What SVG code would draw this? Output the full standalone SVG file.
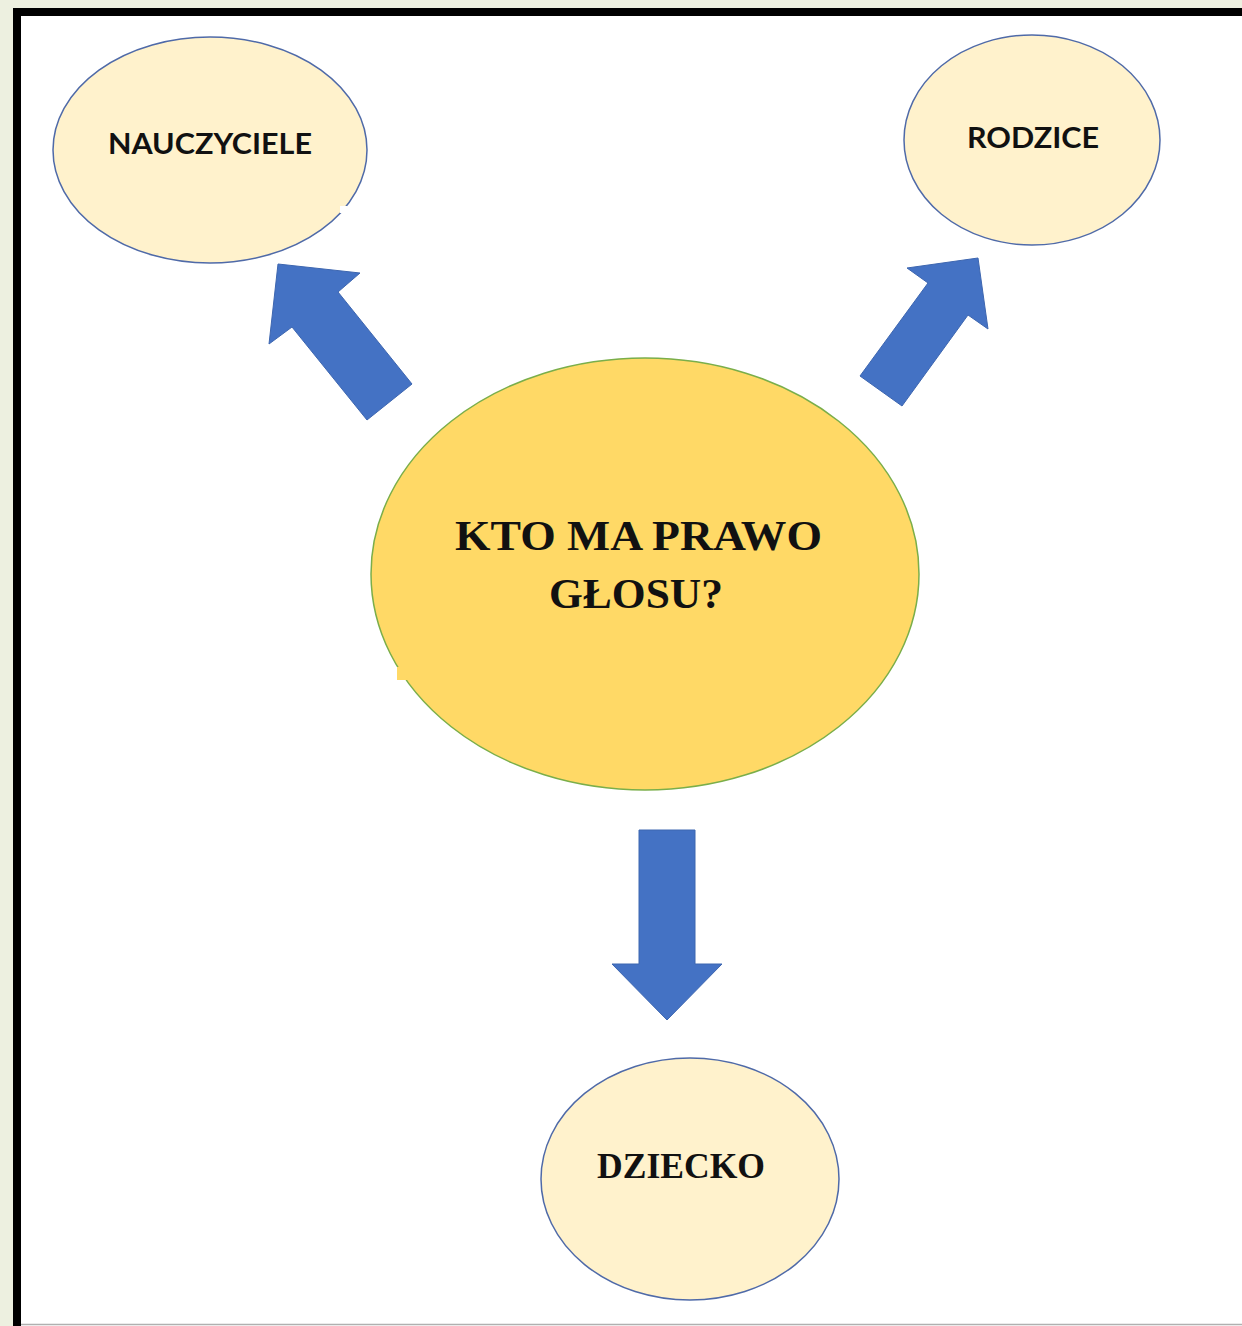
<svg xmlns="http://www.w3.org/2000/svg" width="1242" height="1326" viewBox="0 0 1242 1326">
<style>
.small{fill:#fff2cc;stroke:#4f6aa8;stroke-width:1.5}
.center{fill:#ffd966;stroke:#7aae4a;stroke-width:1.5}
.arrow{fill:#4472c4;stroke:#3d66b0;stroke-width:1}
.sans{font-family:Lato,"Open Sans","Liberation Sans",sans-serif;font-weight:bold;fill:#111}
.serif{font-family:"Liberation Serif","Times New Roman",serif;font-weight:bold;fill:#111}
</style>
<rect x="0" y="0" width="1242" height="1326" fill="#edf0e0"/>
<rect x="17" y="12" width="1240" height="1330" fill="#ffffff" stroke="#000" stroke-width="8"/>
<line x1="21" y1="1324.5" x2="1242" y2="1324.5" stroke="#b0b0b0" stroke-width="1.5"/>
<g id="connectors">
<polygon class="arrow" points="278,264 360,273 338,292 412,384 367,420 292,327 269,344"/>
<polygon class="arrow" points="978,258 988,329 968,315 902,406 860,376 928,283 907,268"/>
<polygon class="arrow" points="639,830 695,830 695,964 722,964 667,1020 612,964 639,964"/>
</g>
<g id="node-nauczyciele">
<ellipse class="small" cx="210" cy="150" rx="157" ry="113"/>
<rect x="340" y="206" width="7" height="7" fill="#fff"/>
<text class="sans" x="108" y="154" font-size="29" textLength="204" lengthAdjust="spacingAndGlyphs">NAUCZYCIELE</text>
</g>
<g id="node-rodzice">
<ellipse class="small" cx="1032" cy="140" rx="128" ry="105"/>
<text class="sans" x="967" y="148" font-size="29" textLength="132" lengthAdjust="spacingAndGlyphs">RODZICE</text>
</g>
<g id="node-center">
<ellipse class="center" cx="645" cy="574" rx="274" ry="216"/>
<rect x="397" y="667" width="11" height="13" fill="#ffd966"/>
<text class="serif" x="455" y="550" font-size="42" textLength="367" lengthAdjust="spacingAndGlyphs">KTO MA PRAWO</text>
<text class="serif" x="549" y="608" font-size="42" textLength="174" lengthAdjust="spacingAndGlyphs">GŁOSU?</text>
</g>
<g id="node-dziecko">
<ellipse class="small" cx="690" cy="1179" rx="149" ry="121"/>
<text class="serif" x="597" y="1178" font-size="35" textLength="168" lengthAdjust="spacingAndGlyphs">DZIECKO</text>
</g>
</svg>
